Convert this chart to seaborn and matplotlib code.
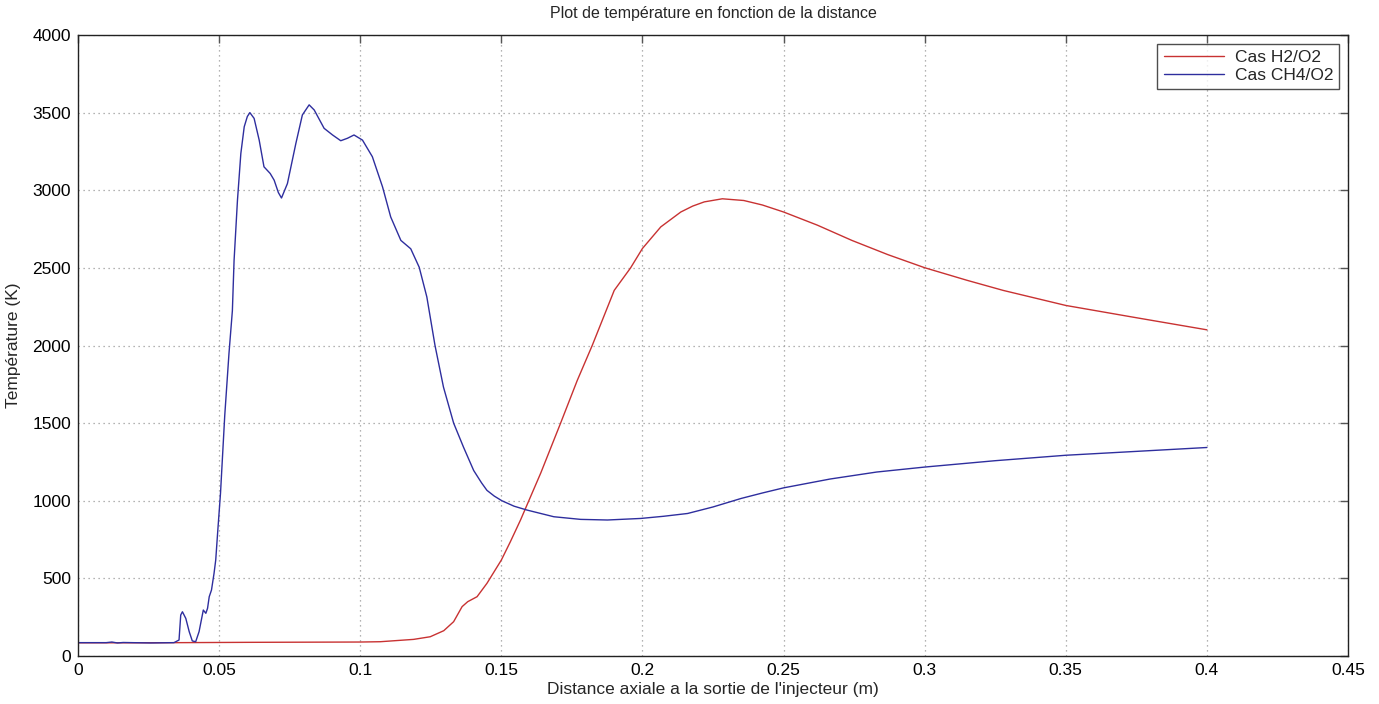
import matplotlib
matplotlib.use("Agg")
import matplotlib.pyplot as plt
import seaborn as sns
import pandas as pd

# ---- data ----
x_h2 = [0.0, 0.02, 0.036, 0.06, 0.08, 0.1, 0.1071, 0.1189, 0.1248, 0.1296, 0.1331, 0.1361,
        0.1381, 0.1414, 0.1449, 0.15, 0.1532, 0.1568, 0.1640, 0.171, 0.1769, 0.1822, 0.19,
        0.1958, 0.2, 0.2065, 0.2136, 0.2178, 0.2219, 0.2283, 0.2359, 0.2425, 0.25, 0.262,
        0.2742, 0.287, 0.3, 0.315, 0.3278, 0.35, 0.3737, 0.4]
t_h2 = [85, 85, 86, 88, 89, 90, 92, 107, 124, 163, 221, 318,
        350, 382, 468, 618, 736, 876, 1180, 1500, 1775, 2000, 2355,
        2500, 2625, 2764, 2860, 2898, 2925, 2945, 2934, 2905, 2860, 2775,
        2677, 2585, 2501, 2420, 2355, 2258, 2183, 2101]

x_ch4 = [0.0, 0.010, 0.012, 0.014, 0.016, 0.0258, 0.034, 0.0358, 0.0364, 0.037, 0.0382,
         0.0394, 0.0405, 0.0417, 0.0429, 0.0444, 0.0453, 0.0459, 0.0465, 0.0473, 0.0482,
         0.0488, 0.0495, 0.0505, 0.052, 0.0535, 0.0547, 0.0553, 0.0565, 0.0577, 0.0589,
         0.0600, 0.0609, 0.0624, 0.0642, 0.0659, 0.0681, 0.0695, 0.0710, 0.0721, 0.0742,
         0.0772, 0.0795, 0.0819, 0.0837, 0.0872, 0.0902, 0.0931, 0.0955, 0.0978, 0.1008,
         0.1043, 0.1079, 0.1108, 0.1144, 0.1179, 0.1209, 0.1236, 0.1265, 0.1295, 0.1331,
         0.1366, 0.1402, 0.1430, 0.1449, 0.1475, 0.1502, 0.1545, 0.1591, 0.1686, 0.1781,
         0.1876, 0.1994, 0.2075, 0.216, 0.225, 0.235, 0.2425, 0.25, 0.2665, 0.283, 0.3,
         0.325, 0.35, 0.375, 0.4]
t_ch4 = [86, 86, 90, 84, 87, 84, 86, 103, 264, 285, 242,
         157, 97, 92, 157, 296, 275, 307, 382, 425, 532,
         618, 800, 1050, 1550, 1950, 2224, 2547, 2935, 3237, 3409,
         3475, 3500, 3463, 3323, 3151, 3108, 3065, 2985, 2950, 3043,
         3302, 3485, 3550, 3517, 3399, 3356, 3319, 3335, 3356, 3323,
         3216, 3022, 2828, 2677, 2623, 2504, 2313, 2000, 1732, 1500,
         1345, 1195, 1115, 1067, 1030, 1000, 965, 940, 897, 880,
         876, 886, 900, 918, 960, 1015, 1050, 1083, 1140, 1185, 1217,
         1258, 1293, 1318, 1343]

labels = ["Cas H2/O2", "Cas CH4/O2"]
x_ticks = [0, 0.05, 0.1, 0.15, 0.2, 0.25, 0.3, 0.35, 0.4, 0.45]
x_tick_labels = ["0", "0.05", "0.1", "0.15", "0.2", "0.25", "0.3", "0.35", "0.4", "0.45"]
y_ticks = [0, 500, 1000, 1500, 2000, 2500, 3000, 3500, 4000]

# ---- plotting ----
sns.set_style("white")
plt.rcParams['font.family'] = ['Liberation Sans', 'DejaVu Sans']

fig = plt.figure(figsize=(13.79, 7.04), dpi=100)
ax = fig.add_axes([78 / 1379, 48 / 704, 1270 / 1379, 621 / 704])

df_h2 = pd.DataFrame({"x": x_h2, "T": t_h2})
df_ch4 = pd.DataFrame({"x": x_ch4, "T": t_ch4})
sns.lineplot(data=df_h2, x="x", y="T", ax=ax, color="#c83232", lw=1.0,
             label=labels[0], estimator=None, sort=False)
sns.lineplot(data=df_ch4, x="x", y="T", ax=ax, color="#2e2e9e", lw=1.0,
             label=labels[1], estimator=None, sort=False)

ax.set_xlim(0, 0.45)
ax.set_ylim(0, 4000)
ax.set_xticks(x_ticks)
ax.set_xticklabels(x_tick_labels)
ax.set_yticks(y_ticks)
ax.tick_params(direction="in", top=True, right=True, length=6, width=1.0,
               labelsize=12.5, colors="#555555", labelcolor="black", pad=5)
ax.grid(True, linestyle=(0, (1, 3)), color="#9a9a9a", linewidth=0.9)
for s in ax.spines.values():
    s.set_color("#222222")
    s.set_linewidth(1.0)

ax.set_title("Plot de température en fonction de la distance", fontsize=11.5, pad=12)
ax.set_xlabel("Distance axiale a la sortie de l'injecteur (m)", fontsize=12.5, labelpad=3)
ax.set_ylabel("Température (K)", fontsize=12.5, labelpad=8)

leg = ax.legend(loc="upper right", fontsize=12.5, frameon=True, fancybox=False,
                borderaxespad=0.5, handlelength=3.5, handletextpad=0.6,
                borderpad=0.35, labelspacing=0.15)
leg.get_frame().set_edgecolor("#222222")
leg.get_frame().set_linewidth(1.0)

fig.savefig("out.png", dpi=100, facecolor="white")
